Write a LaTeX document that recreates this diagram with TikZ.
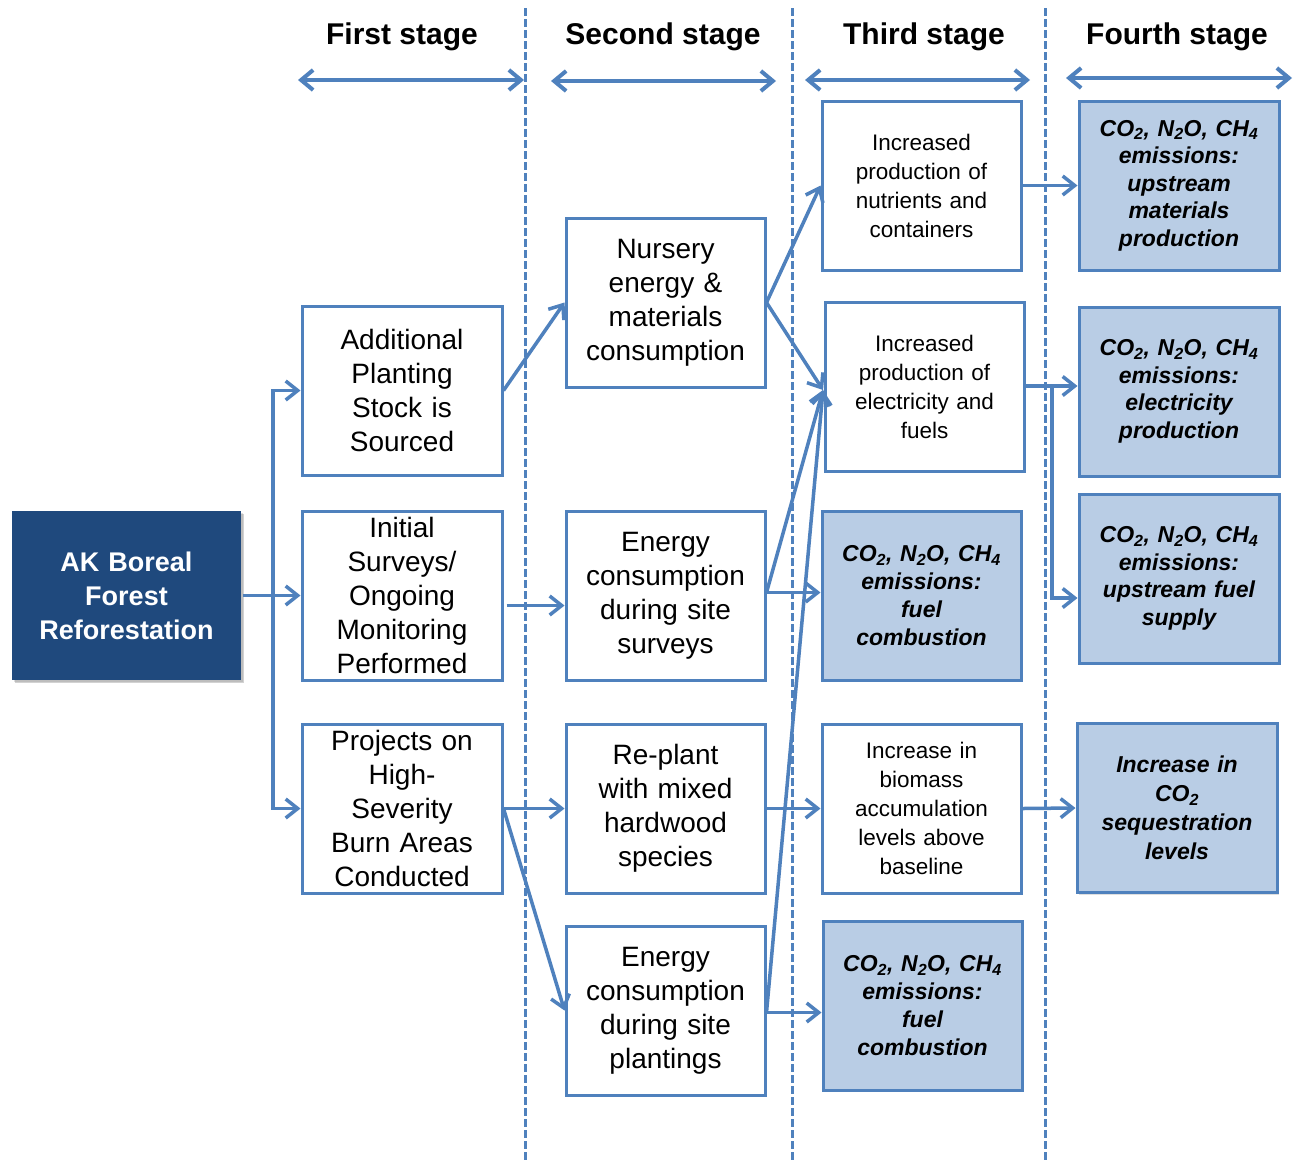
\documentclass[tikz,border=0pt]{standalone}
\usepackage{fontspec}
\setmainfont{Liberation Sans}
\usetikzlibrary{arrows.meta,shadows,calc}
\definecolor{lineblue}{HTML}{4F81BD}
\definecolor{darkblue}{HTML}{1F497D}
\definecolor{lightfill}{HTML}{B9CDE5}
\newcommand{\ghg}{CO\textsubscript{2}, N\textsubscript{2}O, CH\textsubscript{4}}
\begin{document}
\begin{tikzpicture}[x=1pt,y=-1pt,
  boxbase/.style={draw=lineblue, line width=3pt, minimum width=200pt, minimum height=169pt,
    inner sep=0pt, align=center, text width=192pt,
    drop shadow={shadow xshift=2pt, shadow yshift=-2pt, opacity=0.25}},
  bigbox/.style={boxbase, fill=white, font=\fontsize{28}{34}\selectfont},
  smallbox/.style={boxbase, fill=white, font=\fontsize{22.5}{29}\selectfont},
  emitbox/.style={boxbase, fill=lightfill, font=\fontsize{23}{28}\selectfont\bfseries\itshape},
  mainbox/.style={boxbase, draw=none, fill=darkblue, text=white, minimum width=229pt,
    font=\fontsize{27}{34}\selectfont\bfseries,
    drop shadow={shadow xshift=3pt, shadow yshift=-3pt, opacity=0.35}},
  header/.style={font=\fontsize{30}{34}\selectfont\bfseries, inner sep=0pt},
  arr/.style={draw=lineblue, line width=3.5pt, -{Straight Barb[length=12pt,width=19pt]}},
  dblarr/.style={draw=lineblue, line width=4pt, {Straight Barb[length=12pt,width=20pt]}-{Straight Barb[length=12pt,width=20pt]}},
  ln/.style={draw=lineblue, line width=3.5pt},
  divider/.style={draw=lineblue, line width=3pt, dash pattern=on 8pt off 3pt}]
\useasboundingbox (0,0) rectangle (1305,1160);
\fill[white] (0,0) rectangle (1305,1160);

% dividers
\coordinate (d1t) at (525,8); \coordinate (d1b) at (525,1160);
\coordinate (d2t) at (792,8); \coordinate (d2b) at (792,1160);
\coordinate (d3t) at (1045,8); \coordinate (d3b) at (1045,1160);
\draw[divider] (d1t) -- (d1b);
\draw[divider] (d2t) -- (d2b);
\draw[divider] (d3t) -- (d3b);

% headers
\node[header] (h1) at (402,37) {First stage};
\node[header] (h2) at (663,37) {Second stage};
\node[header] (h3) at (924,37) {Third stage};
\node[header] (h4) at (1177,37) {Fourth stage};
\coordinate (a1l) at (298,80); \coordinate (a1r) at (524,80);
\coordinate (a2l) at (551,81); \coordinate (a2r) at (776,81);
\coordinate (a3l) at (805,80); \coordinate (a3r) at (1030,80);
\coordinate (a4l) at (1066,78); \coordinate (a4r) at (1292,78);
\draw[dblarr] (a1l) -- (a1r);
\draw[dblarr] (a2l) -- (a2r);
\draw[dblarr] (a3l) -- (a3r);
\draw[dblarr] (a4l) -- (a4r);

% boxes
\node[mainbox] (ak) at (126.5,595.5) {AK Boreal\\Forest\\Reforestation};

\node[bigbox] (add) at (402,390.5) {Additional\\Planting\\Stock is\\Sourced};
\node[bigbox] (init) at (402,595.5) {Initial\\Surveys/\\Ongoing\\Monitoring\\Performed};
\node[bigbox] (proj) at (402,808.5) {Projects on\\High-\\Severity\\Burn Areas\\Conducted};

\node[bigbox, minimum width=199pt] (nurs) at (665.5,302.5) {Nursery\\energy \&\\materials\\consumption};
\node[bigbox, minimum width=199pt] (esurv) at (665.5,595.5) {Energy\\consumption\\during site\\surveys};
\node[bigbox, minimum width=199pt] (replant) at (665.5,808.5) {Re-plant\\with mixed\\hardwood\\species};
\node[bigbox, minimum width=199pt] (eplant) at (665.5,1010.5) {Energy\\consumption\\during site\\plantings};

\node[smallbox, minimum width=199pt] (nutr) at (921.5,185.5) {Increased\\production of\\nutrients and\\containers};
\node[smallbox, minimum width=199pt] (elec) at (924.5,386.5) {Increased\\production of\\electricity and\\fuels};
\node[emitbox, minimum width=199pt] (fuel1) at (921.5,595.5) {\ghg\\emissions:\\fuel\\combustion};
\node[smallbox, minimum width=199pt] (bio) at (921.5,808.5) {Increase in\\biomass\\accumulation\\levels above\\baseline};
\node[emitbox, minimum width=199pt] (fuel2) at (922.5,1005.5) {\ghg\\emissions:\\fuel\\combustion};

\node[emitbox, font=\fontsize{23}{27.5}\selectfont\bfseries\itshape] (upmat) at (1179,185.5) {\ghg\\emissions:\\upstream\\materials\\production};
\node[emitbox, font=\fontsize{23}{27.5}\selectfont\bfseries\itshape] (elprod) at (1179,391.5) {\ghg\\emissions:\\electricity\\production};
\node[emitbox, font=\fontsize{23}{27.5}\selectfont\bfseries\itshape] (upfuel) at (1179,578.5) {\ghg\\emissions:\\upstream fuel\\supply};
\node[emitbox, font=\fontsize{23}{29}\selectfont\bfseries\itshape] (seq) at (1177,808) {Increase in\\CO\textsubscript{2}\\sequestration\\levels};

% connectors: AK to first stage
\coordinate (trunk) at (273,595.5);
\draw[ln] (ak.east) -- (trunk);
\draw[arr] (trunk) |- (add.west);
\draw[arr] (trunk) -- (init.west);
\draw[arr] (trunk) |- (proj.west);

% first to second stage
\draw[arr] (add.east) -- (nurs.west);
\draw[arr] ($(init.east)+(3,10)$) -- ($(esurv.west)+(0,10)$);
\draw[arr] (proj.east) -- (replant.west);
\draw[arr] (proj.east) -- (eplant.west);

% second to third stage
\coordinate (elecin) at (823,390);
\draw[arr] (nurs.east) -- (nutr.west);
\draw[arr] (nurs.east) -- (elecin);
\draw[arr] ($(esurv.east)+(0,-3)$) -- ($(esurv.east -| fuel1.west)+(0,-3)$);
\draw[arr] ($(esurv.east)+(0,-3)$) -- (elecin);
\draw[arr] (replant.east) -- (bio.west);
\draw[arr] ($(eplant.east)+(0,2)$) -- ($(eplant.east -| fuel2.west)+(0,2)$);
\draw[arr] ($(eplant.east)+(0,2)$) -- (elecin);

% third to fourth stage
\draw[arr] (nutr.east) -- (upmat.west);
\coordinate (branch) at (1052,386);
\draw[arr] ($(elec.east)+(0,-0.5)$) -- ($(elec.east -| elprod.west)+(0,-0.5)$);
\draw[arr] (branch) |- ($(upfuel.west)+(0,19.5)$);
\draw[arr] (bio.east) -- (seq.west);
\end{tikzpicture}
\end{document}
